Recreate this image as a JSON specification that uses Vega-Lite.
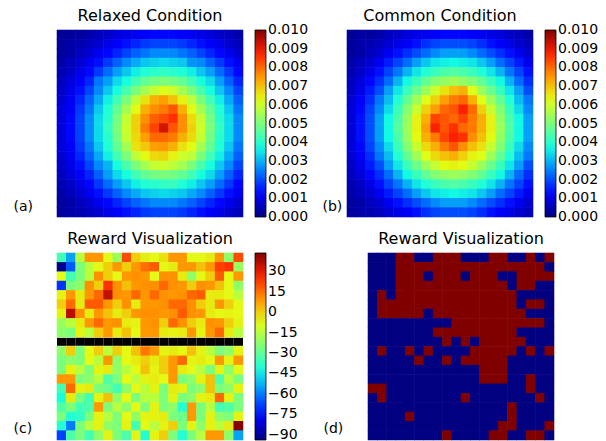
{
"$schema":"https://vega.github.io/schema/vega-lite/v6.json",
"padding":{"left":13,"top":7,"right":0,"bottom":0},
"config":{"view":{"stroke":null},"font":"DejaVu Sans","title":{"fontSize":16,"font":"DejaVu Sans","fontWeight":"normal","color":"black","baseline":"alphabetic","offset":6,"anchor":"middle"},
"legend":{"title":null,"type":"gradient","gradientLength":187,"gradientThickness":11,"offset":12,"labelOffset":5,"labelFontSize":14,"labelFont":"DejaVu Sans","labelColor":"black","gradientStrokeColor":"black","gradientStrokeWidth":0.8,"padding":0,"labelOverlap":false}},
"datasets":{
"a":[
{"r":0,"c":0,"v":0.0002},{"r":0,"c":1,"v":0.0003},{"r":0,"c":2,"v":0.0003},{"r":0,"c":3,"v":0.0004},{"r":0,"c":4,"v":0.0006},{"r":0,"c":5,"v":0.0007},{"r":0,"c":6,"v":0.0009},{"r":0,"c":7,"v":0.0010},{"r":0,"c":8,"v":0.0011},{"r":0,"c":9,"v":0.0012},{"r":0,"c":10,"v":0.0013},{"r":0,"c":11,"v":0.0013},{"r":0,"c":12,"v":0.0013},{"r":0,"c":13,"v":0.0012},{"r":0,"c":14,"v":0.0011},{"r":0,"c":15,"v":0.0010},{"r":0,"c":16,"v":0.0009},{"r":0,"c":17,"v":0.0007},{"r":0,"c":18,"v":0.0006},{"r":0,"c":19,"v":0.0004},
{"r":1,"c":0,"v":0.0003},{"r":1,"c":1,"v":0.0004},{"r":1,"c":2,"v":0.0005},{"r":1,"c":3,"v":0.0006},{"r":1,"c":4,"v":0.0008},{"r":1,"c":5,"v":0.0010},{"r":1,"c":6,"v":0.0012},{"r":1,"c":7,"v":0.0014},{"r":1,"c":8,"v":0.0016},{"r":1,"c":9,"v":0.0018},{"r":1,"c":10,"v":0.0019},{"r":1,"c":11,"v":0.0019},{"r":1,"c":12,"v":0.0019},{"r":1,"c":13,"v":0.0018},{"r":1,"c":14,"v":0.0016},{"r":1,"c":15,"v":0.0014},{"r":1,"c":16,"v":0.0012},{"r":1,"c":17,"v":0.0010},{"r":1,"c":18,"v":0.0008},{"r":1,"c":19,"v":0.0006},
{"r":2,"c":0,"v":0.0003},{"r":2,"c":1,"v":0.0004},{"r":2,"c":2,"v":0.0006},{"r":2,"c":3,"v":0.0008},{"r":2,"c":4,"v":0.0011},{"r":2,"c":5,"v":0.0013},{"r":2,"c":6,"v":0.0016},{"r":2,"c":7,"v":0.0019},{"r":2,"c":8,"v":0.0022},{"r":2,"c":9,"v":0.0024},{"r":2,"c":10,"v":0.0026},{"r":2,"c":11,"v":0.0026},{"r":2,"c":12,"v":0.0026},{"r":2,"c":13,"v":0.0024},{"r":2,"c":14,"v":0.0022},{"r":2,"c":15,"v":0.0019},{"r":2,"c":16,"v":0.0016},{"r":2,"c":17,"v":0.0013},{"r":2,"c":18,"v":0.0011},{"r":2,"c":19,"v":0.0008},
{"r":3,"c":0,"v":0.0004},{"r":3,"c":1,"v":0.0006},{"r":3,"c":2,"v":0.0008},{"r":3,"c":3,"v":0.0011},{"r":3,"c":4,"v":0.0014},{"r":3,"c":5,"v":0.0018},{"r":3,"c":6,"v":0.0022},{"r":3,"c":7,"v":0.0026},{"r":3,"c":8,"v":0.0029},{"r":3,"c":9,"v":0.0032},{"r":3,"c":10,"v":0.0033},{"r":3,"c":11,"v":0.0034},{"r":3,"c":12,"v":0.0033},{"r":3,"c":13,"v":0.0032},{"r":3,"c":14,"v":0.0027},{"r":3,"c":15,"v":0.0026},{"r":3,"c":16,"v":0.0022},{"r":3,"c":17,"v":0.0018},{"r":3,"c":18,"v":0.0014},{"r":3,"c":19,"v":0.0011},
{"r":4,"c":0,"v":0.0005},{"r":4,"c":1,"v":0.0007},{"r":4,"c":2,"v":0.0010},{"r":4,"c":3,"v":0.0013},{"r":4,"c":4,"v":0.0018},{"r":4,"c":5,"v":0.0023},{"r":4,"c":6,"v":0.0028},{"r":4,"c":7,"v":0.0032},{"r":4,"c":8,"v":0.0036},{"r":4,"c":9,"v":0.0039},{"r":4,"c":10,"v":0.0040},{"r":4,"c":11,"v":0.0041},{"r":4,"c":12,"v":0.0040},{"r":4,"c":13,"v":0.0039},{"r":4,"c":14,"v":0.0036},{"r":4,"c":15,"v":0.0032},{"r":4,"c":16,"v":0.0028},{"r":4,"c":17,"v":0.0023},{"r":4,"c":18,"v":0.0018},{"r":4,"c":19,"v":0.0013},
{"r":5,"c":0,"v":0.0006},{"r":5,"c":1,"v":0.0009},{"r":5,"c":2,"v":0.0012},{"r":5,"c":3,"v":0.0016},{"r":5,"c":4,"v":0.0024},{"r":5,"c":5,"v":0.0028},{"r":5,"c":6,"v":0.0034},{"r":5,"c":7,"v":0.0038},{"r":5,"c":8,"v":0.0043},{"r":5,"c":9,"v":0.0047},{"r":5,"c":10,"v":0.0049},{"r":5,"c":11,"v":0.0050},{"r":5,"c":12,"v":0.0049},{"r":5,"c":13,"v":0.0047},{"r":5,"c":14,"v":0.0043},{"r":5,"c":15,"v":0.0038},{"r":5,"c":16,"v":0.0034},{"r":5,"c":17,"v":0.0028},{"r":5,"c":18,"v":0.0022},{"r":5,"c":19,"v":0.0016},
{"r":6,"c":0,"v":0.0007},{"r":6,"c":1,"v":0.0010},{"r":6,"c":2,"v":0.0014},{"r":6,"c":3,"v":0.0019},{"r":6,"c":4,"v":0.0026},{"r":6,"c":5,"v":0.0032},{"r":6,"c":6,"v":0.0038},{"r":6,"c":7,"v":0.0044},{"r":6,"c":8,"v":0.0050},{"r":6,"c":9,"v":0.0055},{"r":6,"c":10,"v":0.0059},{"r":6,"c":11,"v":0.0062},{"r":6,"c":12,"v":0.0060},{"r":6,"c":13,"v":0.0055},{"r":6,"c":14,"v":0.0050},{"r":6,"c":15,"v":0.0044},{"r":6,"c":16,"v":0.0038},{"r":6,"c":17,"v":0.0032},{"r":6,"c":18,"v":0.0026},{"r":6,"c":19,"v":0.0019},
{"r":7,"c":0,"v":0.0008},{"r":7,"c":1,"v":0.0011},{"r":7,"c":2,"v":0.0016},{"r":7,"c":3,"v":0.0022},{"r":7,"c":4,"v":0.0029},{"r":7,"c":5,"v":0.0036},{"r":7,"c":6,"v":0.0043},{"r":7,"c":7,"v":0.0050},{"r":7,"c":8,"v":0.0058},{"r":7,"c":9,"v":0.0066},{"r":7,"c":10,"v":0.0072},{"r":7,"c":11,"v":0.0074},{"r":7,"c":12,"v":0.0070},{"r":7,"c":13,"v":0.0064},{"r":7,"c":14,"v":0.0058},{"r":7,"c":15,"v":0.0050},{"r":7,"c":16,"v":0.0043},{"r":7,"c":17,"v":0.0036},{"r":7,"c":18,"v":0.0029},{"r":7,"c":19,"v":0.0022},
{"r":8,"c":0,"v":0.0009},{"r":8,"c":1,"v":0.0012},{"r":8,"c":2,"v":0.0018},{"r":8,"c":3,"v":0.0024},{"r":8,"c":4,"v":0.0032},{"r":8,"c":5,"v":0.0039},{"r":8,"c":6,"v":0.0047},{"r":8,"c":7,"v":0.0055},{"r":8,"c":8,"v":0.0063},{"r":8,"c":9,"v":0.0072},{"r":8,"c":10,"v":0.0076},{"r":8,"c":11,"v":0.0078},{"r":8,"c":12,"v":0.0082},{"r":8,"c":13,"v":0.0072},{"r":8,"c":14,"v":0.0063},{"r":8,"c":15,"v":0.0055},{"r":8,"c":16,"v":0.0047},{"r":8,"c":17,"v":0.0039},{"r":8,"c":18,"v":0.0032},{"r":8,"c":19,"v":0.0024},
{"r":9,"c":0,"v":0.0009},{"r":9,"c":1,"v":0.0013},{"r":9,"c":2,"v":0.0019},{"r":9,"c":3,"v":0.0026},{"r":9,"c":4,"v":0.0034},{"r":9,"c":5,"v":0.0040},{"r":9,"c":6,"v":0.0049},{"r":9,"c":7,"v":0.0059},{"r":9,"c":8,"v":0.0068},{"r":9,"c":9,"v":0.0076},{"r":9,"c":10,"v":0.0081},{"r":9,"c":11,"v":0.0083},{"r":9,"c":12,"v":0.0086},{"r":9,"c":13,"v":0.0076},{"r":9,"c":14,"v":0.0067},{"r":9,"c":15,"v":0.0059},{"r":9,"c":16,"v":0.0049},{"r":9,"c":17,"v":0.0040},{"r":9,"c":18,"v":0.0034},{"r":9,"c":19,"v":0.0026},
{"r":10,"c":0,"v":0.0009},{"r":10,"c":1,"v":0.0013},{"r":10,"c":2,"v":0.0019},{"r":10,"c":3,"v":0.0026},{"r":10,"c":4,"v":0.0034},{"r":10,"c":5,"v":0.0041},{"r":10,"c":6,"v":0.0050},{"r":10,"c":7,"v":0.0060},{"r":10,"c":8,"v":0.0068},{"r":10,"c":9,"v":0.0078},{"r":10,"c":10,"v":0.0084},{"r":10,"c":11,"v":0.0092},{"r":10,"c":12,"v":0.0082},{"r":10,"c":13,"v":0.0076},{"r":10,"c":14,"v":0.0068},{"r":10,"c":15,"v":0.0060},{"r":10,"c":16,"v":0.0050},{"r":10,"c":17,"v":0.0041},{"r":10,"c":18,"v":0.0034},{"r":10,"c":19,"v":0.0026},
{"r":11,"c":0,"v":0.0009},{"r":11,"c":1,"v":0.0013},{"r":11,"c":2,"v":0.0019},{"r":11,"c":3,"v":0.0026},{"r":11,"c":4,"v":0.0034},{"r":11,"c":5,"v":0.0040},{"r":11,"c":6,"v":0.0049},{"r":11,"c":7,"v":0.0059},{"r":11,"c":8,"v":0.0067},{"r":11,"c":9,"v":0.0074},{"r":11,"c":10,"v":0.0080},{"r":11,"c":11,"v":0.0080},{"r":11,"c":12,"v":0.0078},{"r":11,"c":13,"v":0.0072},{"r":11,"c":14,"v":0.0067},{"r":11,"c":15,"v":0.0059},{"r":11,"c":16,"v":0.0049},{"r":11,"c":17,"v":0.0040},{"r":11,"c":18,"v":0.0034},{"r":11,"c":19,"v":0.0026},
{"r":12,"c":0,"v":0.0009},{"r":12,"c":1,"v":0.0012},{"r":12,"c":2,"v":0.0018},{"r":12,"c":3,"v":0.0024},{"r":12,"c":4,"v":0.0032},{"r":12,"c":5,"v":0.0039},{"r":12,"c":6,"v":0.0047},{"r":12,"c":7,"v":0.0055},{"r":12,"c":8,"v":0.0066},{"r":12,"c":9,"v":0.0069},{"r":12,"c":10,"v":0.0074},{"r":12,"c":11,"v":0.0075},{"r":12,"c":12,"v":0.0072},{"r":12,"c":13,"v":0.0066},{"r":12,"c":14,"v":0.0063},{"r":12,"c":15,"v":0.0055},{"r":12,"c":16,"v":0.0047},{"r":12,"c":17,"v":0.0039},{"r":12,"c":18,"v":0.0032},{"r":12,"c":19,"v":0.0024},
{"r":13,"c":0,"v":0.0008},{"r":13,"c":1,"v":0.0011},{"r":13,"c":2,"v":0.0016},{"r":13,"c":3,"v":0.0022},{"r":13,"c":4,"v":0.0029},{"r":13,"c":5,"v":0.0036},{"r":13,"c":6,"v":0.0043},{"r":13,"c":7,"v":0.0050},{"r":13,"c":8,"v":0.0058},{"r":13,"c":9,"v":0.0063},{"r":13,"c":10,"v":0.0067},{"r":13,"c":11,"v":0.0068},{"r":13,"c":12,"v":0.0064},{"r":13,"c":13,"v":0.0060},{"r":13,"c":14,"v":0.0058},{"r":13,"c":15,"v":0.0050},{"r":13,"c":16,"v":0.0043},{"r":13,"c":17,"v":0.0036},{"r":13,"c":18,"v":0.0029},{"r":13,"c":19,"v":0.0022},
{"r":14,"c":0,"v":0.0007},{"r":14,"c":1,"v":0.0010},{"r":14,"c":2,"v":0.0014},{"r":14,"c":3,"v":0.0019},{"r":14,"c":4,"v":0.0026},{"r":14,"c":5,"v":0.0030},{"r":14,"c":6,"v":0.0038},{"r":14,"c":7,"v":0.0044},{"r":14,"c":8,"v":0.0050},{"r":14,"c":9,"v":0.0055},{"r":14,"c":10,"v":0.0059},{"r":14,"c":11,"v":0.0060},{"r":14,"c":12,"v":0.0058},{"r":14,"c":13,"v":0.0055},{"r":14,"c":14,"v":0.0050},{"r":14,"c":15,"v":0.0044},{"r":14,"c":16,"v":0.0038},{"r":14,"c":17,"v":0.0032},{"r":14,"c":18,"v":0.0026},{"r":14,"c":19,"v":0.0019},
{"r":15,"c":0,"v":0.0006},{"r":15,"c":1,"v":0.0009},{"r":15,"c":2,"v":0.0012},{"r":15,"c":3,"v":0.0016},{"r":15,"c":4,"v":0.0022},{"r":15,"c":5,"v":0.0028},{"r":15,"c":6,"v":0.0034},{"r":15,"c":7,"v":0.0038},{"r":15,"c":8,"v":0.0043},{"r":15,"c":9,"v":0.0047},{"r":15,"c":10,"v":0.0049},{"r":15,"c":11,"v":0.0050},{"r":15,"c":12,"v":0.0049},{"r":15,"c":13,"v":0.0047},{"r":15,"c":14,"v":0.0043},{"r":15,"c":15,"v":0.0038},{"r":15,"c":16,"v":0.0034},{"r":15,"c":17,"v":0.0028},{"r":15,"c":18,"v":0.0022},{"r":15,"c":19,"v":0.0016},
{"r":16,"c":0,"v":0.0005},{"r":16,"c":1,"v":0.0007},{"r":16,"c":2,"v":0.0010},{"r":16,"c":3,"v":0.0013},{"r":16,"c":4,"v":0.0018},{"r":16,"c":5,"v":0.0023},{"r":16,"c":6,"v":0.0028},{"r":16,"c":7,"v":0.0032},{"r":16,"c":8,"v":0.0036},{"r":16,"c":9,"v":0.0039},{"r":16,"c":10,"v":0.0040},{"r":16,"c":11,"v":0.0041},{"r":16,"c":12,"v":0.0042},{"r":16,"c":13,"v":0.0039},{"r":16,"c":14,"v":0.0036},{"r":16,"c":15,"v":0.0032},{"r":16,"c":16,"v":0.0028},{"r":16,"c":17,"v":0.0023},{"r":16,"c":18,"v":0.0018},{"r":16,"c":19,"v":0.0013},
{"r":17,"c":0,"v":0.0004},{"r":17,"c":1,"v":0.0006},{"r":17,"c":2,"v":0.0008},{"r":17,"c":3,"v":0.0011},{"r":17,"c":4,"v":0.0014},{"r":17,"c":5,"v":0.0018},{"r":17,"c":6,"v":0.0022},{"r":17,"c":7,"v":0.0026},{"r":17,"c":8,"v":0.0029},{"r":17,"c":9,"v":0.0032},{"r":17,"c":10,"v":0.0033},{"r":17,"c":11,"v":0.0034},{"r":17,"c":12,"v":0.0033},{"r":17,"c":13,"v":0.0032},{"r":17,"c":14,"v":0.0029},{"r":17,"c":15,"v":0.0026},{"r":17,"c":16,"v":0.0022},{"r":17,"c":17,"v":0.0018},{"r":17,"c":18,"v":0.0014},{"r":17,"c":19,"v":0.0011},
{"r":18,"c":0,"v":0.0003},{"r":18,"c":1,"v":0.0004},{"r":18,"c":2,"v":0.0006},{"r":18,"c":3,"v":0.0008},{"r":18,"c":4,"v":0.0011},{"r":18,"c":5,"v":0.0013},{"r":18,"c":6,"v":0.0016},{"r":18,"c":7,"v":0.0019},{"r":18,"c":8,"v":0.0022},{"r":18,"c":9,"v":0.0024},{"r":18,"c":10,"v":0.0026},{"r":18,"c":11,"v":0.0026},{"r":18,"c":12,"v":0.0026},{"r":18,"c":13,"v":0.0024},{"r":18,"c":14,"v":0.0022},{"r":18,"c":15,"v":0.0019},{"r":18,"c":16,"v":0.0016},{"r":18,"c":17,"v":0.0013},{"r":18,"c":18,"v":0.0011},{"r":18,"c":19,"v":0.0008},
{"r":19,"c":0,"v":0.0003},{"r":19,"c":1,"v":0.0004},{"r":19,"c":2,"v":0.0005},{"r":19,"c":3,"v":0.0006},{"r":19,"c":4,"v":0.0008},{"r":19,"c":5,"v":0.0010},{"r":19,"c":6,"v":0.0012},{"r":19,"c":7,"v":0.0014},{"r":19,"c":8,"v":0.0016},{"r":19,"c":9,"v":0.0018},{"r":19,"c":10,"v":0.0019},{"r":19,"c":11,"v":0.0019},{"r":19,"c":12,"v":0.0019},{"r":19,"c":13,"v":0.0018},{"r":19,"c":14,"v":0.0016},{"r":19,"c":15,"v":0.0014},{"r":19,"c":16,"v":0.0012},{"r":19,"c":17,"v":0.0010},{"r":19,"c":18,"v":0.0008},{"r":19,"c":19,"v":0.0006}
],
"b":[
{"r":0,"c":0,"v":0.0002},{"r":0,"c":1,"v":0.0003},{"r":0,"c":2,"v":0.0003},{"r":0,"c":3,"v":0.0004},{"r":0,"c":4,"v":0.0006},{"r":0,"c":5,"v":0.0007},{"r":0,"c":6,"v":0.0009},{"r":0,"c":7,"v":0.0010},{"r":0,"c":8,"v":0.0011},{"r":0,"c":9,"v":0.0012},{"r":0,"c":10,"v":0.0013},{"r":0,"c":11,"v":0.0013},{"r":0,"c":12,"v":0.0013},{"r":0,"c":13,"v":0.0012},{"r":0,"c":14,"v":0.0011},{"r":0,"c":15,"v":0.0010},{"r":0,"c":16,"v":0.0009},{"r":0,"c":17,"v":0.0007},{"r":0,"c":18,"v":0.0006},{"r":0,"c":19,"v":0.0004},
{"r":1,"c":0,"v":0.0003},{"r":1,"c":1,"v":0.0004},{"r":1,"c":2,"v":0.0005},{"r":1,"c":3,"v":0.0006},{"r":1,"c":4,"v":0.0008},{"r":1,"c":5,"v":0.0010},{"r":1,"c":6,"v":0.0012},{"r":1,"c":7,"v":0.0014},{"r":1,"c":8,"v":0.0017},{"r":1,"c":9,"v":0.0019},{"r":1,"c":10,"v":0.0020},{"r":1,"c":11,"v":0.0020},{"r":1,"c":12,"v":0.0020},{"r":1,"c":13,"v":0.0019},{"r":1,"c":14,"v":0.0017},{"r":1,"c":15,"v":0.0014},{"r":1,"c":16,"v":0.0012},{"r":1,"c":17,"v":0.0010},{"r":1,"c":18,"v":0.0008},{"r":1,"c":19,"v":0.0006},
{"r":2,"c":0,"v":0.0003},{"r":2,"c":1,"v":0.0004},{"r":2,"c":2,"v":0.0006},{"r":2,"c":3,"v":0.0008},{"r":2,"c":4,"v":0.0011},{"r":2,"c":5,"v":0.0014},{"r":2,"c":6,"v":0.0017},{"r":2,"c":7,"v":0.0020},{"r":2,"c":8,"v":0.0023},{"r":2,"c":9,"v":0.0026},{"r":2,"c":10,"v":0.0028},{"r":2,"c":11,"v":0.0028},{"r":2,"c":12,"v":0.0028},{"r":2,"c":13,"v":0.0026},{"r":2,"c":14,"v":0.0023},{"r":2,"c":15,"v":0.0020},{"r":2,"c":16,"v":0.0017},{"r":2,"c":17,"v":0.0014},{"r":2,"c":18,"v":0.0011},{"r":2,"c":19,"v":0.0008},
{"r":3,"c":0,"v":0.0004},{"r":3,"c":1,"v":0.0006},{"r":3,"c":2,"v":0.0008},{"r":3,"c":3,"v":0.0011},{"r":3,"c":4,"v":0.0015},{"r":3,"c":5,"v":0.0019},{"r":3,"c":6,"v":0.0023},{"r":3,"c":7,"v":0.0028},{"r":3,"c":8,"v":0.0032},{"r":3,"c":9,"v":0.0035},{"r":3,"c":10,"v":0.0036},{"r":3,"c":11,"v":0.0037},{"r":3,"c":12,"v":0.0036},{"r":3,"c":13,"v":0.0035},{"r":3,"c":14,"v":0.0032},{"r":3,"c":15,"v":0.0028},{"r":3,"c":16,"v":0.0023},{"r":3,"c":17,"v":0.0019},{"r":3,"c":18,"v":0.0015},{"r":3,"c":19,"v":0.0011},
{"r":4,"c":0,"v":0.0005},{"r":4,"c":1,"v":0.0007},{"r":4,"c":2,"v":0.0010},{"r":4,"c":3,"v":0.0014},{"r":4,"c":4,"v":0.0019},{"r":4,"c":5,"v":0.0024},{"r":4,"c":6,"v":0.0030},{"r":4,"c":7,"v":0.0035},{"r":4,"c":8,"v":0.0039},{"r":4,"c":9,"v":0.0042},{"r":4,"c":10,"v":0.0044},{"r":4,"c":11,"v":0.0045},{"r":4,"c":12,"v":0.0044},{"r":4,"c":13,"v":0.0042},{"r":4,"c":14,"v":0.0039},{"r":4,"c":15,"v":0.0035},{"r":4,"c":16,"v":0.0030},{"r":4,"c":17,"v":0.0024},{"r":4,"c":18,"v":0.0019},{"r":4,"c":19,"v":0.0014},
{"r":5,"c":0,"v":0.0006},{"r":5,"c":1,"v":0.0009},{"r":5,"c":2,"v":0.0013},{"r":5,"c":3,"v":0.0017},{"r":5,"c":4,"v":0.0023},{"r":5,"c":5,"v":0.0030},{"r":5,"c":6,"v":0.0037},{"r":5,"c":7,"v":0.0042},{"r":5,"c":8,"v":0.0047},{"r":5,"c":9,"v":0.0051},{"r":5,"c":10,"v":0.0053},{"r":5,"c":11,"v":0.0055},{"r":5,"c":12,"v":0.0053},{"r":5,"c":13,"v":0.0051},{"r":5,"c":14,"v":0.0047},{"r":5,"c":15,"v":0.0042},{"r":5,"c":16,"v":0.0037},{"r":5,"c":17,"v":0.0030},{"r":5,"c":18,"v":0.0023},{"r":5,"c":19,"v":0.0017},
{"r":6,"c":0,"v":0.0007},{"r":6,"c":1,"v":0.0010},{"r":6,"c":2,"v":0.0015},{"r":6,"c":3,"v":0.0020},{"r":6,"c":4,"v":0.0028},{"r":6,"c":5,"v":0.0035},{"r":6,"c":6,"v":0.0042},{"r":6,"c":7,"v":0.0048},{"r":6,"c":8,"v":0.0054},{"r":6,"c":9,"v":0.0060},{"r":6,"c":10,"v":0.0066},{"r":6,"c":11,"v":0.0070},{"r":6,"c":12,"v":0.0072},{"r":6,"c":13,"v":0.0062},{"r":6,"c":14,"v":0.0054},{"r":6,"c":15,"v":0.0048},{"r":6,"c":16,"v":0.0042},{"r":6,"c":17,"v":0.0035},{"r":6,"c":18,"v":0.0028},{"r":6,"c":19,"v":0.0020},
{"r":7,"c":0,"v":0.0008},{"r":7,"c":1,"v":0.0012},{"r":7,"c":2,"v":0.0017},{"r":7,"c":3,"v":0.0024},{"r":7,"c":4,"v":0.0031},{"r":7,"c":5,"v":0.0039},{"r":7,"c":6,"v":0.0047},{"r":7,"c":7,"v":0.0054},{"r":7,"c":8,"v":0.0062},{"r":7,"c":9,"v":0.0068},{"r":7,"c":10,"v":0.0074},{"r":7,"c":11,"v":0.0078},{"r":7,"c":12,"v":0.0080},{"r":7,"c":13,"v":0.0072},{"r":7,"c":14,"v":0.0062},{"r":7,"c":15,"v":0.0054},{"r":7,"c":16,"v":0.0047},{"r":7,"c":17,"v":0.0039},{"r":7,"c":18,"v":0.0031},{"r":7,"c":19,"v":0.0024},
{"r":8,"c":0,"v":0.0009},{"r":8,"c":1,"v":0.0013},{"r":8,"c":2,"v":0.0019},{"r":8,"c":3,"v":0.0026},{"r":8,"c":4,"v":0.0034},{"r":8,"c":5,"v":0.0042},{"r":8,"c":6,"v":0.0051},{"r":8,"c":7,"v":0.0059},{"r":8,"c":8,"v":0.0068},{"r":8,"c":9,"v":0.0074},{"r":8,"c":10,"v":0.0080},{"r":8,"c":11,"v":0.0082},{"r":8,"c":12,"v":0.0088},{"r":8,"c":13,"v":0.0080},{"r":8,"c":14,"v":0.0068},{"r":8,"c":15,"v":0.0059},{"r":8,"c":16,"v":0.0051},{"r":8,"c":17,"v":0.0042},{"r":8,"c":18,"v":0.0034},{"r":8,"c":19,"v":0.0026},
{"r":9,"c":0,"v":0.0009},{"r":9,"c":1,"v":0.0014},{"r":9,"c":2,"v":0.0020},{"r":9,"c":3,"v":0.0028},{"r":9,"c":4,"v":0.0037},{"r":9,"c":5,"v":0.0044},{"r":9,"c":6,"v":0.0053},{"r":9,"c":7,"v":0.0064},{"r":9,"c":8,"v":0.0072},{"r":9,"c":9,"v":0.0084},{"r":9,"c":10,"v":0.0082},{"r":9,"c":11,"v":0.0080},{"r":9,"c":12,"v":0.0084},{"r":9,"c":13,"v":0.0078},{"r":9,"c":14,"v":0.0072},{"r":9,"c":15,"v":0.0064},{"r":9,"c":16,"v":0.0053},{"r":9,"c":17,"v":0.0044},{"r":9,"c":18,"v":0.0037},{"r":9,"c":19,"v":0.0028},
{"r":10,"c":0,"v":0.0009},{"r":10,"c":1,"v":0.0014},{"r":10,"c":2,"v":0.0020},{"r":10,"c":3,"v":0.0028},{"r":10,"c":4,"v":0.0037},{"r":10,"c":5,"v":0.0045},{"r":10,"c":6,"v":0.0054},{"r":10,"c":7,"v":0.0064},{"r":10,"c":8,"v":0.0074},{"r":10,"c":9,"v":0.0088},{"r":10,"c":10,"v":0.0082},{"r":10,"c":11,"v":0.0086},{"r":10,"c":12,"v":0.0080},{"r":10,"c":13,"v":0.0078},{"r":10,"c":14,"v":0.0072},{"r":10,"c":15,"v":0.0064},{"r":10,"c":16,"v":0.0054},{"r":10,"c":17,"v":0.0045},{"r":10,"c":18,"v":0.0037},{"r":10,"c":19,"v":0.0028},
{"r":11,"c":0,"v":0.0009},{"r":11,"c":1,"v":0.0014},{"r":11,"c":2,"v":0.0020},{"r":11,"c":3,"v":0.0028},{"r":11,"c":4,"v":0.0037},{"r":11,"c":5,"v":0.0044},{"r":11,"c":6,"v":0.0053},{"r":11,"c":7,"v":0.0063},{"r":11,"c":8,"v":0.0072},{"r":11,"c":9,"v":0.0078},{"r":11,"c":10,"v":0.0084},{"r":11,"c":11,"v":0.0088},{"r":11,"c":12,"v":0.0086},{"r":11,"c":13,"v":0.0076},{"r":11,"c":14,"v":0.0070},{"r":11,"c":15,"v":0.0063},{"r":11,"c":16,"v":0.0053},{"r":11,"c":17,"v":0.0044},{"r":11,"c":18,"v":0.0037},{"r":11,"c":19,"v":0.0028},
{"r":12,"c":0,"v":0.0009},{"r":12,"c":1,"v":0.0013},{"r":12,"c":2,"v":0.0019},{"r":12,"c":3,"v":0.0026},{"r":12,"c":4,"v":0.0034},{"r":12,"c":5,"v":0.0042},{"r":12,"c":6,"v":0.0051},{"r":12,"c":7,"v":0.0059},{"r":12,"c":8,"v":0.0067},{"r":12,"c":9,"v":0.0072},{"r":12,"c":10,"v":0.0078},{"r":12,"c":11,"v":0.0082},{"r":12,"c":12,"v":0.0076},{"r":12,"c":13,"v":0.0070},{"r":12,"c":14,"v":0.0066},{"r":12,"c":15,"v":0.0059},{"r":12,"c":16,"v":0.0051},{"r":12,"c":17,"v":0.0042},{"r":12,"c":18,"v":0.0034},{"r":12,"c":19,"v":0.0026},
{"r":13,"c":0,"v":0.0008},{"r":13,"c":1,"v":0.0012},{"r":13,"c":2,"v":0.0017},{"r":13,"c":3,"v":0.0024},{"r":13,"c":4,"v":0.0031},{"r":13,"c":5,"v":0.0039},{"r":13,"c":6,"v":0.0047},{"r":13,"c":7,"v":0.0054},{"r":13,"c":8,"v":0.0062},{"r":13,"c":9,"v":0.0067},{"r":13,"c":10,"v":0.0070},{"r":13,"c":11,"v":0.0072},{"r":13,"c":12,"v":0.0068},{"r":13,"c":13,"v":0.0064},{"r":13,"c":14,"v":0.0062},{"r":13,"c":15,"v":0.0054},{"r":13,"c":16,"v":0.0047},{"r":13,"c":17,"v":0.0039},{"r":13,"c":18,"v":0.0031},{"r":13,"c":19,"v":0.0024},
{"r":14,"c":0,"v":0.0007},{"r":14,"c":1,"v":0.0010},{"r":14,"c":2,"v":0.0015},{"r":14,"c":3,"v":0.0020},{"r":14,"c":4,"v":0.0028},{"r":14,"c":5,"v":0.0035},{"r":14,"c":6,"v":0.0042},{"r":14,"c":7,"v":0.0048},{"r":14,"c":8,"v":0.0054},{"r":14,"c":9,"v":0.0059},{"r":14,"c":10,"v":0.0063},{"r":14,"c":11,"v":0.0064},{"r":14,"c":12,"v":0.0063},{"r":14,"c":13,"v":0.0059},{"r":14,"c":14,"v":0.0054},{"r":14,"c":15,"v":0.0048},{"r":14,"c":16,"v":0.0042},{"r":14,"c":17,"v":0.0035},{"r":14,"c":18,"v":0.0028},{"r":14,"c":19,"v":0.0020},
{"r":15,"c":0,"v":0.0006},{"r":15,"c":1,"v":0.0009},{"r":15,"c":2,"v":0.0013},{"r":15,"c":3,"v":0.0017},{"r":15,"c":4,"v":0.0023},{"r":15,"c":5,"v":0.0030},{"r":15,"c":6,"v":0.0037},{"r":15,"c":7,"v":0.0042},{"r":15,"c":8,"v":0.0047},{"r":15,"c":9,"v":0.0051},{"r":15,"c":10,"v":0.0053},{"r":15,"c":11,"v":0.0054},{"r":15,"c":12,"v":0.0053},{"r":15,"c":13,"v":0.0051},{"r":15,"c":14,"v":0.0047},{"r":15,"c":15,"v":0.0042},{"r":15,"c":16,"v":0.0037},{"r":15,"c":17,"v":0.0030},{"r":15,"c":18,"v":0.0023},{"r":15,"c":19,"v":0.0017},
{"r":16,"c":0,"v":0.0005},{"r":16,"c":1,"v":0.0007},{"r":16,"c":2,"v":0.0010},{"r":16,"c":3,"v":0.0014},{"r":16,"c":4,"v":0.0019},{"r":16,"c":5,"v":0.0024},{"r":16,"c":6,"v":0.0030},{"r":16,"c":7,"v":0.0035},{"r":16,"c":8,"v":0.0039},{"r":16,"c":9,"v":0.0042},{"r":16,"c":10,"v":0.0044},{"r":16,"c":11,"v":0.0045},{"r":16,"c":12,"v":0.0044},{"r":16,"c":13,"v":0.0042},{"r":16,"c":14,"v":0.0039},{"r":16,"c":15,"v":0.0035},{"r":16,"c":16,"v":0.0030},{"r":16,"c":17,"v":0.0024},{"r":16,"c":18,"v":0.0019},{"r":16,"c":19,"v":0.0014},
{"r":17,"c":0,"v":0.0004},{"r":17,"c":1,"v":0.0006},{"r":17,"c":2,"v":0.0008},{"r":17,"c":3,"v":0.0011},{"r":17,"c":4,"v":0.0015},{"r":17,"c":5,"v":0.0019},{"r":17,"c":6,"v":0.0023},{"r":17,"c":7,"v":0.0028},{"r":17,"c":8,"v":0.0032},{"r":17,"c":9,"v":0.0035},{"r":17,"c":10,"v":0.0036},{"r":17,"c":11,"v":0.0037},{"r":17,"c":12,"v":0.0036},{"r":17,"c":13,"v":0.0035},{"r":17,"c":14,"v":0.0032},{"r":17,"c":15,"v":0.0028},{"r":17,"c":16,"v":0.0023},{"r":17,"c":17,"v":0.0019},{"r":17,"c":18,"v":0.0015},{"r":17,"c":19,"v":0.0011},
{"r":18,"c":0,"v":0.0003},{"r":18,"c":1,"v":0.0004},{"r":18,"c":2,"v":0.0006},{"r":18,"c":3,"v":0.0008},{"r":18,"c":4,"v":0.0011},{"r":18,"c":5,"v":0.0014},{"r":18,"c":6,"v":0.0017},{"r":18,"c":7,"v":0.0020},{"r":18,"c":8,"v":0.0023},{"r":18,"c":9,"v":0.0026},{"r":18,"c":10,"v":0.0028},{"r":18,"c":11,"v":0.0028},{"r":18,"c":12,"v":0.0028},{"r":18,"c":13,"v":0.0026},{"r":18,"c":14,"v":0.0023},{"r":18,"c":15,"v":0.0020},{"r":18,"c":16,"v":0.0017},{"r":18,"c":17,"v":0.0014},{"r":18,"c":18,"v":0.0011},{"r":18,"c":19,"v":0.0008},
{"r":19,"c":0,"v":0.0003},{"r":19,"c":1,"v":0.0004},{"r":19,"c":2,"v":0.0005},{"r":19,"c":3,"v":0.0006},{"r":19,"c":4,"v":0.0008},{"r":19,"c":5,"v":0.0010},{"r":19,"c":6,"v":0.0012},{"r":19,"c":7,"v":0.0014},{"r":19,"c":8,"v":0.0017},{"r":19,"c":9,"v":0.0019},{"r":19,"c":10,"v":0.0020},{"r":19,"c":11,"v":0.0020},{"r":19,"c":12,"v":0.0020},{"r":19,"c":13,"v":0.0019},{"r":19,"c":14,"v":0.0017},{"r":19,"c":15,"v":0.0014},{"r":19,"c":16,"v":0.0012},{"r":19,"c":17,"v":0.0010},{"r":19,"c":18,"v":0.0008},{"r":19,"c":19,"v":0.0006}
],
"c":[
{"r":0,"c":0,"v":-35},{"r":0,"c":1,"v":-55},{"r":0,"c":2,"v":-15},{"r":0,"c":3,"v":9},{"r":0,"c":4,"v":9},{"r":0,"c":5,"v":-7},{"r":0,"c":6,"v":-20},{"r":0,"c":7,"v":20},{"r":0,"c":8,"v":0},{"r":0,"c":9,"v":-5},{"r":0,"c":10,"v":-7},{"r":0,"c":11,"v":-3},{"r":0,"c":12,"v":9},{"r":0,"c":13,"v":9},{"r":0,"c":14,"v":-7},{"r":0,"c":15,"v":-7},{"r":0,"c":16,"v":-5},{"r":0,"c":17,"v":9},{"r":0,"c":18,"v":-22},{"r":0,"c":19,"v":20},
{"r":1,"c":0,"v":-92},{"r":1,"c":1,"v":-65},{"r":1,"c":2,"v":-25},{"r":1,"c":3,"v":-15},{"r":1,"c":4,"v":-7},{"r":1,"c":5,"v":0},{"r":1,"c":6,"v":9},{"r":1,"c":7,"v":0},{"r":1,"c":8,"v":9},{"r":1,"c":9,"v":15},{"r":1,"c":10,"v":18},{"r":1,"c":11,"v":-7},{"r":1,"c":12,"v":-5},{"r":1,"c":13,"v":9},{"r":1,"c":14,"v":9},{"r":1,"c":15,"v":2},{"r":1,"c":16,"v":9},{"r":1,"c":17,"v":22},{"r":1,"c":18,"v":24},{"r":1,"c":19,"v":-20},
{"r":2,"c":0,"v":-8},{"r":2,"c":1,"v":-35},{"r":2,"c":2,"v":-25},{"r":2,"c":3,"v":-15},{"r":2,"c":4,"v":10},{"r":2,"c":5,"v":0},{"r":2,"c":6,"v":-7},{"r":2,"c":7,"v":9},{"r":2,"c":8,"v":10},{"r":2,"c":9,"v":9},{"r":2,"c":10,"v":-7},{"r":2,"c":11,"v":10},{"r":2,"c":12,"v":10},{"r":2,"c":13,"v":-5},{"r":2,"c":14,"v":-22},{"r":2,"c":15,"v":-7},{"r":2,"c":16,"v":0},{"r":2,"c":17,"v":18},{"r":2,"c":18,"v":-7},{"r":2,"c":19,"v":9},
{"r":3,"c":0,"v":-70},{"r":3,"c":1,"v":-25},{"r":3,"c":2,"v":-22},{"r":3,"c":3,"v":10},{"r":3,"c":4,"v":0},{"r":3,"c":5,"v":24},{"r":3,"c":6,"v":10},{"r":3,"c":7,"v":2},{"r":3,"c":8,"v":9},{"r":3,"c":9,"v":10},{"r":3,"c":10,"v":10},{"r":3,"c":11,"v":16},{"r":3,"c":12,"v":10},{"r":3,"c":13,"v":9},{"r":3,"c":14,"v":0},{"r":3,"c":15,"v":10},{"r":3,"c":16,"v":9},{"r":3,"c":17,"v":2},{"r":3,"c":18,"v":-7},{"r":3,"c":19,"v":-22},
{"r":4,"c":0,"v":-6},{"r":4,"c":1,"v":9},{"r":4,"c":2,"v":-5},{"r":4,"c":3,"v":9},{"r":4,"c":4,"v":16},{"r":4,"c":5,"v":35},{"r":4,"c":6,"v":10},{"r":4,"c":7,"v":9},{"r":4,"c":8,"v":16},{"r":4,"c":9,"v":9},{"r":4,"c":10,"v":16},{"r":4,"c":11,"v":10},{"r":4,"c":12,"v":9},{"r":4,"c":13,"v":10},{"r":4,"c":14,"v":16},{"r":4,"c":15,"v":18},{"r":4,"c":16,"v":-5},{"r":4,"c":17,"v":-5},{"r":4,"c":18,"v":-7},{"r":4,"c":19,"v":-15},
{"r":5,"c":0,"v":0},{"r":5,"c":1,"v":16},{"r":5,"c":2,"v":-5},{"r":5,"c":3,"v":18},{"r":5,"c":4,"v":18},{"r":5,"c":5,"v":9},{"r":5,"c":6,"v":0},{"r":5,"c":7,"v":10},{"r":5,"c":8,"v":-5},{"r":5,"c":9,"v":9},{"r":5,"c":10,"v":9},{"r":5,"c":11,"v":10},{"r":5,"c":12,"v":16},{"r":5,"c":13,"v":16},{"r":5,"c":14,"v":10},{"r":5,"c":15,"v":0},{"r":5,"c":16,"v":-5},{"r":5,"c":17,"v":9},{"r":5,"c":18,"v":0},{"r":5,"c":19,"v":-7},
{"r":6,"c":0,"v":-6},{"r":6,"c":1,"v":36},{"r":6,"c":2,"v":10},{"r":6,"c":3,"v":-5},{"r":6,"c":4,"v":9},{"r":6,"c":5,"v":2},{"r":6,"c":6,"v":-5},{"r":6,"c":7,"v":0},{"r":6,"c":8,"v":9},{"r":6,"c":9,"v":10},{"r":6,"c":10,"v":10},{"r":6,"c":11,"v":9},{"r":6,"c":12,"v":10},{"r":6,"c":13,"v":18},{"r":6,"c":14,"v":10},{"r":6,"c":15,"v":9},{"r":6,"c":16,"v":-5},{"r":6,"c":17,"v":-7},{"r":6,"c":18,"v":-6},{"r":6,"c":19,"v":-7},
{"r":7,"c":0,"v":-20},{"r":7,"c":1,"v":-15},{"r":7,"c":2,"v":-5},{"r":7,"c":3,"v":9},{"r":7,"c":4,"v":16},{"r":7,"c":5,"v":9},{"r":7,"c":6,"v":10},{"r":7,"c":7,"v":-5},{"r":7,"c":8,"v":-6},{"r":7,"c":9,"v":9},{"r":7,"c":10,"v":10},{"r":7,"c":11,"v":0},{"r":7,"c":12,"v":16},{"r":7,"c":13,"v":10},{"r":7,"c":14,"v":0},{"r":7,"c":15,"v":-5},{"r":7,"c":16,"v":10},{"r":7,"c":17,"v":9},{"r":7,"c":18,"v":0},{"r":7,"c":19,"v":-6},
{"r":8,"c":0,"v":-22},{"r":8,"c":1,"v":-25},{"r":8,"c":2,"v":-6},{"r":8,"c":3,"v":-15},{"r":8,"c":4,"v":0},{"r":8,"c":5,"v":9},{"r":8,"c":6,"v":-5},{"r":8,"c":7,"v":2},{"r":8,"c":8,"v":-7},{"r":8,"c":9,"v":9},{"r":8,"c":10,"v":9},{"r":8,"c":11,"v":-5},{"r":8,"c":12,"v":-6},{"r":8,"c":13,"v":-5},{"r":8,"c":14,"v":9},{"r":8,"c":15,"v":-6},{"r":8,"c":16,"v":9},{"r":8,"c":17,"v":16},{"r":8,"c":18,"v":-5},{"r":8,"c":19,"v":-15},
{"r":9,"c":0,"v":null},{"r":9,"c":1,"v":null},{"r":9,"c":2,"v":null},{"r":9,"c":3,"v":null},{"r":9,"c":4,"v":null},{"r":9,"c":5,"v":null},{"r":9,"c":6,"v":null},{"r":9,"c":7,"v":null},{"r":9,"c":8,"v":null},{"r":9,"c":9,"v":null},{"r":9,"c":10,"v":null},{"r":9,"c":11,"v":null},{"r":9,"c":12,"v":null},{"r":9,"c":13,"v":null},{"r":9,"c":14,"v":null},{"r":9,"c":15,"v":null},{"r":9,"c":16,"v":null},{"r":9,"c":17,"v":null},{"r":9,"c":18,"v":null},{"r":9,"c":19,"v":null},
{"r":10,"c":0,"v":-22},{"r":10,"c":1,"v":0},{"r":10,"c":2,"v":-25},{"r":10,"c":3,"v":-7},{"r":10,"c":4,"v":0},{"r":10,"c":5,"v":-15},{"r":10,"c":6,"v":0},{"r":10,"c":7,"v":-7},{"r":10,"c":8,"v":2},{"r":10,"c":9,"v":14},{"r":10,"c":10,"v":9},{"r":10,"c":11,"v":-6},{"r":10,"c":12,"v":-5},{"r":10,"c":13,"v":-7},{"r":10,"c":14,"v":2},{"r":10,"c":15,"v":-6},{"r":10,"c":16,"v":-15},{"r":10,"c":17,"v":-25},{"r":10,"c":18,"v":-22},{"r":10,"c":19,"v":-6},
{"r":11,"c":0,"v":-25},{"r":11,"c":1,"v":-22},{"r":11,"c":2,"v":-25},{"r":11,"c":3,"v":-7},{"r":11,"c":4,"v":-15},{"r":11,"c":5,"v":9},{"r":11,"c":6,"v":-22},{"r":11,"c":7,"v":-7},{"r":11,"c":8,"v":-5},{"r":11,"c":9,"v":0},{"r":11,"c":10,"v":-5},{"r":11,"c":11,"v":0},{"r":11,"c":12,"v":9},{"r":11,"c":13,"v":16},{"r":11,"c":14,"v":-6},{"r":11,"c":15,"v":-5},{"r":11,"c":16,"v":-7},{"r":11,"c":17,"v":9},{"r":11,"c":18,"v":-6},{"r":11,"c":19,"v":9},
{"r":12,"c":0,"v":-25},{"r":12,"c":1,"v":-6},{"r":12,"c":2,"v":-15},{"r":12,"c":3,"v":-25},{"r":12,"c":4,"v":-6},{"r":12,"c":5,"v":-5},{"r":12,"c":6,"v":-22},{"r":12,"c":7,"v":-15},{"r":12,"c":8,"v":-7},{"r":12,"c":9,"v":2},{"r":12,"c":10,"v":-6},{"r":12,"c":11,"v":0},{"r":12,"c":12,"v":9},{"r":12,"c":13,"v":-5},{"r":12,"c":14,"v":-7},{"r":12,"c":15,"v":-15},{"r":12,"c":16,"v":-25},{"r":12,"c":17,"v":-6},{"r":12,"c":18,"v":-22},{"r":12,"c":19,"v":-7},
{"r":13,"c":0,"v":9},{"r":13,"c":1,"v":9},{"r":13,"c":2,"v":-25},{"r":13,"c":3,"v":-22},{"r":13,"c":4,"v":-15},{"r":13,"c":5,"v":-33},{"r":13,"c":6,"v":-25},{"r":13,"c":7,"v":-7},{"r":13,"c":8,"v":-15},{"r":13,"c":9,"v":-6},{"r":13,"c":10,"v":-5},{"r":13,"c":11,"v":-7},{"r":13,"c":12,"v":9},{"r":13,"c":13,"v":-25},{"r":13,"c":14,"v":-22},{"r":13,"c":15,"v":-6},{"r":13,"c":16,"v":2},{"r":13,"c":17,"v":-33},{"r":13,"c":18,"v":-15},{"r":13,"c":19,"v":-25},
{"r":14,"c":0,"v":-35},{"r":14,"c":1,"v":16},{"r":14,"c":2,"v":-6},{"r":14,"c":3,"v":-5},{"r":14,"c":4,"v":-25},{"r":14,"c":5,"v":-28},{"r":14,"c":6,"v":-35},{"r":14,"c":7,"v":-22},{"r":14,"c":8,"v":-7},{"r":14,"c":9,"v":-15},{"r":14,"c":10,"v":-6},{"r":14,"c":11,"v":-25},{"r":14,"c":12,"v":-5},{"r":14,"c":13,"v":-6},{"r":14,"c":14,"v":-25},{"r":14,"c":15,"v":-22},{"r":14,"c":16,"v":2},{"r":14,"c":17,"v":-25},{"r":14,"c":18,"v":-22},{"r":14,"c":19,"v":-6},
{"r":15,"c":0,"v":-42},{"r":15,"c":1,"v":-5},{"r":15,"c":2,"v":-25},{"r":15,"c":3,"v":-35},{"r":15,"c":4,"v":-6},{"r":15,"c":5,"v":2},{"r":15,"c":6,"v":-22},{"r":15,"c":7,"v":-7},{"r":15,"c":8,"v":-25},{"r":15,"c":9,"v":-15},{"r":15,"c":10,"v":-15},{"r":15,"c":11,"v":-25},{"r":15,"c":12,"v":-6},{"r":15,"c":13,"v":-25},{"r":15,"c":14,"v":-22},{"r":15,"c":15,"v":-6},{"r":15,"c":16,"v":-5},{"r":15,"c":17,"v":16},{"r":15,"c":18,"v":-6},{"r":15,"c":19,"v":-25},
{"r":16,"c":0,"v":-32},{"r":16,"c":1,"v":-25},{"r":16,"c":2,"v":-35},{"r":16,"c":3,"v":-33},{"r":16,"c":4,"v":9},{"r":16,"c":5,"v":-25},{"r":16,"c":6,"v":-15},{"r":16,"c":7,"v":-22},{"r":16,"c":8,"v":-7},{"r":16,"c":9,"v":-25},{"r":16,"c":10,"v":-6},{"r":16,"c":11,"v":-25},{"r":16,"c":12,"v":-22},{"r":16,"c":13,"v":-40},{"r":16,"c":14,"v":9},{"r":16,"c":15,"v":-25},{"r":16,"c":16,"v":-15},{"r":16,"c":17,"v":-35},{"r":16,"c":18,"v":-33},{"r":16,"c":19,"v":-25},
{"r":17,"c":0,"v":-25},{"r":17,"c":1,"v":-40},{"r":17,"c":2,"v":-38},{"r":17,"c":3,"v":-25},{"r":17,"c":4,"v":-6},{"r":17,"c":5,"v":-15},{"r":17,"c":6,"v":-25},{"r":17,"c":7,"v":-7},{"r":17,"c":8,"v":-22},{"r":17,"c":9,"v":-6},{"r":17,"c":10,"v":-6},{"r":17,"c":11,"v":-5},{"r":17,"c":12,"v":-25},{"r":17,"c":13,"v":-28},{"r":17,"c":14,"v":9},{"r":17,"c":15,"v":-25},{"r":17,"c":16,"v":-6},{"r":17,"c":17,"v":-22},{"r":17,"c":18,"v":-25},{"r":17,"c":19,"v":-6},
{"r":18,"c":0,"v":-40},{"r":18,"c":1,"v":-60},{"r":18,"c":2,"v":-25},{"r":18,"c":3,"v":-15},{"r":18,"c":4,"v":-6},{"r":18,"c":5,"v":-22},{"r":18,"c":6,"v":-25},{"r":18,"c":7,"v":-6},{"r":18,"c":8,"v":-35},{"r":18,"c":9,"v":-7},{"r":18,"c":10,"v":-15},{"r":18,"c":11,"v":-6},{"r":18,"c":12,"v":0},{"r":18,"c":13,"v":-25},{"r":18,"c":14,"v":-6},{"r":18,"c":15,"v":-22},{"r":18,"c":16,"v":-6},{"r":18,"c":17,"v":-15},{"r":18,"c":18,"v":-5},{"r":18,"c":19,"v":43},
{"r":19,"c":0,"v":-68},{"r":19,"c":1,"v":-33},{"r":19,"c":2,"v":-25},{"r":19,"c":3,"v":-35},{"r":19,"c":4,"v":-22},{"r":19,"c":5,"v":-6},{"r":19,"c":6,"v":-25},{"r":19,"c":7,"v":-33},{"r":19,"c":8,"v":-6},{"r":19,"c":9,"v":-40},{"r":19,"c":10,"v":-6},{"r":19,"c":11,"v":0},{"r":19,"c":12,"v":-25},{"r":19,"c":13,"v":-40},{"r":19,"c":14,"v":-25},{"r":19,"c":15,"v":-15},{"r":19,"c":16,"v":9},{"r":19,"c":17,"v":9},{"r":19,"c":18,"v":-22},{"r":19,"c":19,"v":-55}
],
"d":[
{"r":0,"c":0,"v":0},{"r":0,"c":1,"v":0},{"r":0,"c":2,"v":0},{"r":0,"c":3,"v":1},{"r":0,"c":4,"v":1},{"r":0,"c":5,"v":0},{"r":0,"c":6,"v":0},{"r":0,"c":7,"v":1},{"r":0,"c":8,"v":1},{"r":0,"c":9,"v":1},{"r":0,"c":10,"v":0},{"r":0,"c":11,"v":0},{"r":0,"c":12,"v":0},{"r":0,"c":13,"v":1},{"r":0,"c":14,"v":1},{"r":0,"c":15,"v":0},{"r":0,"c":16,"v":0},{"r":0,"c":17,"v":1},{"r":0,"c":18,"v":0},{"r":0,"c":19,"v":1},
{"r":1,"c":0,"v":0},{"r":1,"c":1,"v":0},{"r":1,"c":2,"v":0},{"r":1,"c":3,"v":1},{"r":1,"c":4,"v":1},{"r":1,"c":5,"v":1},{"r":1,"c":6,"v":1},{"r":1,"c":7,"v":1},{"r":1,"c":8,"v":1},{"r":1,"c":9,"v":1},{"r":1,"c":10,"v":1},{"r":1,"c":11,"v":1},{"r":1,"c":12,"v":1},{"r":1,"c":13,"v":1},{"r":1,"c":14,"v":1},{"r":1,"c":15,"v":1},{"r":1,"c":16,"v":1},{"r":1,"c":17,"v":1},{"r":1,"c":18,"v":1},{"r":1,"c":19,"v":0},
{"r":2,"c":0,"v":0},{"r":2,"c":1,"v":0},{"r":2,"c":2,"v":0},{"r":2,"c":3,"v":1},{"r":2,"c":4,"v":1},{"r":2,"c":5,"v":1},{"r":2,"c":6,"v":0},{"r":2,"c":7,"v":1},{"r":2,"c":8,"v":1},{"r":2,"c":9,"v":1},{"r":2,"c":10,"v":0},{"r":2,"c":11,"v":1},{"r":2,"c":12,"v":1},{"r":2,"c":13,"v":1},{"r":2,"c":14,"v":0},{"r":2,"c":15,"v":0},{"r":2,"c":16,"v":1},{"r":2,"c":17,"v":1},{"r":2,"c":18,"v":1},{"r":2,"c":19,"v":1},
{"r":3,"c":0,"v":0},{"r":3,"c":1,"v":0},{"r":3,"c":2,"v":0},{"r":3,"c":3,"v":1},{"r":3,"c":4,"v":1},{"r":3,"c":5,"v":1},{"r":3,"c":6,"v":1},{"r":3,"c":7,"v":1},{"r":3,"c":8,"v":1},{"r":3,"c":9,"v":1},{"r":3,"c":10,"v":1},{"r":3,"c":11,"v":1},{"r":3,"c":12,"v":1},{"r":3,"c":13,"v":1},{"r":3,"c":14,"v":1},{"r":3,"c":15,"v":0},{"r":3,"c":16,"v":1},{"r":3,"c":17,"v":1},{"r":3,"c":18,"v":0},{"r":3,"c":19,"v":0},
{"r":4,"c":0,"v":0},{"r":4,"c":1,"v":1},{"r":4,"c":2,"v":0},{"r":4,"c":3,"v":1},{"r":4,"c":4,"v":1},{"r":4,"c":5,"v":1},{"r":4,"c":6,"v":1},{"r":4,"c":7,"v":1},{"r":4,"c":8,"v":1},{"r":4,"c":9,"v":1},{"r":4,"c":10,"v":1},{"r":4,"c":11,"v":1},{"r":4,"c":12,"v":1},{"r":4,"c":13,"v":1},{"r":4,"c":14,"v":1},{"r":4,"c":15,"v":1},{"r":4,"c":16,"v":0},{"r":4,"c":17,"v":0},{"r":4,"c":18,"v":0},{"r":4,"c":19,"v":0},
{"r":5,"c":0,"v":0},{"r":5,"c":1,"v":1},{"r":5,"c":2,"v":1},{"r":5,"c":3,"v":1},{"r":5,"c":4,"v":1},{"r":5,"c":5,"v":1},{"r":5,"c":6,"v":1},{"r":5,"c":7,"v":1},{"r":5,"c":8,"v":1},{"r":5,"c":9,"v":1},{"r":5,"c":10,"v":1},{"r":5,"c":11,"v":1},{"r":5,"c":12,"v":1},{"r":5,"c":13,"v":1},{"r":5,"c":14,"v":1},{"r":5,"c":15,"v":1},{"r":5,"c":16,"v":0},{"r":5,"c":17,"v":1},{"r":5,"c":18,"v":1},{"r":5,"c":19,"v":0},
{"r":6,"c":0,"v":0},{"r":6,"c":1,"v":1},{"r":6,"c":2,"v":1},{"r":6,"c":3,"v":1},{"r":6,"c":4,"v":1},{"r":6,"c":5,"v":1},{"r":6,"c":6,"v":0},{"r":6,"c":7,"v":1},{"r":6,"c":8,"v":1},{"r":6,"c":9,"v":1},{"r":6,"c":10,"v":1},{"r":6,"c":11,"v":1},{"r":6,"c":12,"v":1},{"r":6,"c":13,"v":1},{"r":6,"c":14,"v":1},{"r":6,"c":15,"v":1},{"r":6,"c":16,"v":1},{"r":6,"c":17,"v":0},{"r":6,"c":18,"v":0},{"r":6,"c":19,"v":0},
{"r":7,"c":0,"v":0},{"r":7,"c":1,"v":0},{"r":7,"c":2,"v":0},{"r":7,"c":3,"v":0},{"r":7,"c":4,"v":0},{"r":7,"c":5,"v":0},{"r":7,"c":6,"v":0},{"r":7,"c":7,"v":0},{"r":7,"c":8,"v":0},{"r":7,"c":9,"v":1},{"r":7,"c":10,"v":1},{"r":7,"c":11,"v":1},{"r":7,"c":12,"v":1},{"r":7,"c":13,"v":1},{"r":7,"c":14,"v":1},{"r":7,"c":15,"v":1},{"r":7,"c":16,"v":1},{"r":7,"c":17,"v":1},{"r":7,"c":18,"v":1},{"r":7,"c":19,"v":0},
{"r":8,"c":0,"v":0},{"r":8,"c":1,"v":0},{"r":8,"c":2,"v":0},{"r":8,"c":3,"v":0},{"r":8,"c":4,"v":0},{"r":8,"c":5,"v":0},{"r":8,"c":6,"v":0},{"r":8,"c":7,"v":1},{"r":8,"c":8,"v":1},{"r":8,"c":9,"v":1},{"r":8,"c":10,"v":1},{"r":8,"c":11,"v":1},{"r":8,"c":12,"v":1},{"r":8,"c":13,"v":1},{"r":8,"c":14,"v":1},{"r":8,"c":15,"v":1},{"r":8,"c":16,"v":0},{"r":8,"c":17,"v":0},{"r":8,"c":18,"v":0},{"r":8,"c":19,"v":0},
{"r":9,"c":0,"v":0},{"r":9,"c":1,"v":0},{"r":9,"c":2,"v":0},{"r":9,"c":3,"v":0},{"r":9,"c":4,"v":0},{"r":9,"c":5,"v":0},{"r":9,"c":6,"v":0},{"r":9,"c":7,"v":0},{"r":9,"c":8,"v":1},{"r":9,"c":9,"v":0},{"r":9,"c":10,"v":1},{"r":9,"c":11,"v":0},{"r":9,"c":12,"v":1},{"r":9,"c":13,"v":1},{"r":9,"c":14,"v":1},{"r":9,"c":15,"v":1},{"r":9,"c":16,"v":1},{"r":9,"c":17,"v":0},{"r":9,"c":18,"v":0},{"r":9,"c":19,"v":0},
{"r":10,"c":0,"v":0},{"r":10,"c":1,"v":1},{"r":10,"c":2,"v":0},{"r":10,"c":3,"v":0},{"r":10,"c":4,"v":1},{"r":10,"c":5,"v":0},{"r":10,"c":6,"v":1},{"r":10,"c":7,"v":0},{"r":10,"c":8,"v":0},{"r":10,"c":9,"v":0},{"r":10,"c":10,"v":0},{"r":10,"c":11,"v":1},{"r":10,"c":12,"v":1},{"r":10,"c":13,"v":1},{"r":10,"c":14,"v":1},{"r":10,"c":15,"v":1},{"r":10,"c":16,"v":0},{"r":10,"c":17,"v":1},{"r":10,"c":18,"v":0},{"r":10,"c":19,"v":1},
{"r":11,"c":0,"v":0},{"r":11,"c":1,"v":0},{"r":11,"c":2,"v":0},{"r":11,"c":3,"v":0},{"r":11,"c":4,"v":0},{"r":11,"c":5,"v":1},{"r":11,"c":6,"v":0},{"r":11,"c":7,"v":0},{"r":11,"c":8,"v":1},{"r":11,"c":9,"v":0},{"r":11,"c":10,"v":1},{"r":11,"c":11,"v":1},{"r":11,"c":12,"v":1},{"r":11,"c":13,"v":1},{"r":11,"c":14,"v":1},{"r":11,"c":15,"v":0},{"r":11,"c":16,"v":0},{"r":11,"c":17,"v":0},{"r":11,"c":18,"v":0},{"r":11,"c":19,"v":0},
{"r":12,"c":0,"v":0},{"r":12,"c":1,"v":0},{"r":12,"c":2,"v":0},{"r":12,"c":3,"v":0},{"r":12,"c":4,"v":0},{"r":12,"c":5,"v":0},{"r":12,"c":6,"v":0},{"r":12,"c":7,"v":0},{"r":12,"c":8,"v":0},{"r":12,"c":9,"v":0},{"r":12,"c":10,"v":0},{"r":12,"c":11,"v":0},{"r":12,"c":12,"v":1},{"r":12,"c":13,"v":1},{"r":12,"c":14,"v":1},{"r":12,"c":15,"v":0},{"r":12,"c":16,"v":0},{"r":12,"c":17,"v":0},{"r":12,"c":18,"v":0},{"r":12,"c":19,"v":0},
{"r":13,"c":0,"v":0},{"r":13,"c":1,"v":0},{"r":13,"c":2,"v":0},{"r":13,"c":3,"v":0},{"r":13,"c":4,"v":0},{"r":13,"c":5,"v":0},{"r":13,"c":6,"v":0},{"r":13,"c":7,"v":0},{"r":13,"c":8,"v":0},{"r":13,"c":9,"v":0},{"r":13,"c":10,"v":0},{"r":13,"c":11,"v":0},{"r":13,"c":12,"v":1},{"r":13,"c":13,"v":1},{"r":13,"c":14,"v":1},{"r":13,"c":15,"v":0},{"r":13,"c":16,"v":0},{"r":13,"c":17,"v":1},{"r":13,"c":18,"v":0},{"r":13,"c":19,"v":0},
{"r":14,"c":0,"v":1},{"r":14,"c":1,"v":1},{"r":14,"c":2,"v":0},{"r":14,"c":3,"v":0},{"r":14,"c":4,"v":0},{"r":14,"c":5,"v":0},{"r":14,"c":6,"v":0},{"r":14,"c":7,"v":0},{"r":14,"c":8,"v":0},{"r":14,"c":9,"v":0},{"r":14,"c":10,"v":0},{"r":14,"c":11,"v":0},{"r":14,"c":12,"v":0},{"r":14,"c":13,"v":0},{"r":14,"c":14,"v":0},{"r":14,"c":15,"v":0},{"r":14,"c":16,"v":0},{"r":14,"c":17,"v":1},{"r":14,"c":18,"v":0},{"r":14,"c":19,"v":0},
{"r":15,"c":0,"v":0},{"r":15,"c":1,"v":1},{"r":15,"c":2,"v":0},{"r":15,"c":3,"v":0},{"r":15,"c":4,"v":0},{"r":15,"c":5,"v":0},{"r":15,"c":6,"v":0},{"r":15,"c":7,"v":0},{"r":15,"c":8,"v":0},{"r":15,"c":9,"v":0},{"r":15,"c":10,"v":1},{"r":15,"c":11,"v":0},{"r":15,"c":12,"v":0},{"r":15,"c":13,"v":0},{"r":15,"c":14,"v":0},{"r":15,"c":15,"v":0},{"r":15,"c":16,"v":0},{"r":15,"c":17,"v":0},{"r":15,"c":18,"v":1},{"r":15,"c":19,"v":0},
{"r":16,"c":0,"v":0},{"r":16,"c":1,"v":0},{"r":16,"c":2,"v":0},{"r":16,"c":3,"v":0},{"r":16,"c":4,"v":0},{"r":16,"c":5,"v":0},{"r":16,"c":6,"v":0},{"r":16,"c":7,"v":0},{"r":16,"c":8,"v":0},{"r":16,"c":9,"v":0},{"r":16,"c":10,"v":0},{"r":16,"c":11,"v":0},{"r":16,"c":12,"v":0},{"r":16,"c":13,"v":0},{"r":16,"c":14,"v":0},{"r":16,"c":15,"v":1},{"r":16,"c":16,"v":0},{"r":16,"c":17,"v":0},{"r":16,"c":18,"v":0},{"r":16,"c":19,"v":0},
{"r":17,"c":0,"v":0},{"r":17,"c":1,"v":0},{"r":17,"c":2,"v":0},{"r":17,"c":3,"v":0},{"r":17,"c":4,"v":1},{"r":17,"c":5,"v":0},{"r":17,"c":6,"v":0},{"r":17,"c":7,"v":0},{"r":17,"c":8,"v":0},{"r":17,"c":9,"v":0},{"r":17,"c":10,"v":0},{"r":17,"c":11,"v":0},{"r":17,"c":12,"v":0},{"r":17,"c":13,"v":0},{"r":17,"c":14,"v":0},{"r":17,"c":15,"v":1},{"r":17,"c":16,"v":0},{"r":17,"c":17,"v":0},{"r":17,"c":18,"v":0},{"r":17,"c":19,"v":0},
{"r":18,"c":0,"v":0},{"r":18,"c":1,"v":0},{"r":18,"c":2,"v":0},{"r":18,"c":3,"v":0},{"r":18,"c":4,"v":0},{"r":18,"c":5,"v":0},{"r":18,"c":6,"v":0},{"r":18,"c":7,"v":0},{"r":18,"c":8,"v":0},{"r":18,"c":9,"v":0},{"r":18,"c":10,"v":0},{"r":18,"c":11,"v":0},{"r":18,"c":12,"v":0},{"r":18,"c":13,"v":0},{"r":18,"c":14,"v":1},{"r":18,"c":15,"v":1},{"r":18,"c":16,"v":0},{"r":18,"c":17,"v":0},{"r":18,"c":18,"v":0},{"r":18,"c":19,"v":1},
{"r":19,"c":0,"v":0},{"r":19,"c":1,"v":0},{"r":19,"c":2,"v":0},{"r":19,"c":3,"v":0},{"r":19,"c":4,"v":0},{"r":19,"c":5,"v":0},{"r":19,"c":6,"v":0},{"r":19,"c":7,"v":0},{"r":19,"c":8,"v":1},{"r":19,"c":9,"v":0},{"r":19,"c":10,"v":0},{"r":19,"c":11,"v":0},{"r":19,"c":12,"v":0},{"r":19,"c":13,"v":1},{"r":19,"c":14,"v":1},{"r":19,"c":15,"v":0},{"r":19,"c":16,"v":0},{"r":19,"c":17,"v":1},{"r":19,"c":18,"v":1},{"r":19,"c":19,"v":0}
]
},
"spacing":6,
"resolve":{"scale":{"color":"independent"},"legend":{"color":"independent"}},
"vconcat":[
{"hconcat":[
{"width":186,"height":187,"title":{"text":"Relaxed Condition"},"data":{"name":"a"},
"mark":{"type":"rect","width":{"band":1.06},"height":{"band":1.06}},
"encoding":{
"x":{"field":"c","type":"ordinal","axis":null,"scale":{"paddingInner":0,"paddingOuter":0}},
"y":{"field":"r","type":"ordinal","scale":{"paddingInner":0,"paddingOuter":0},"axis":{"title":"(a)","titleAngle":0,"titleAlign":"left","titleBaseline":"middle","titleX":-44,"titleY":176,"titleFontSize":14,"titleFontWeight":"normal","titleFont":"DejaVu Sans","titleColor":"black","domain":false,"ticks":false,"labels":false,"grid":false}},
"color":{"field":"v","type":"quantitative","scale":{"domain":[0,0.01],"range":["#000080","#0000ff","#0080ff","#14ffe2","#7bff7b","#e2ff14","#ff9700","#ff2100","#800000"],"interpolate":"rgb"},"legend":{"type":"gradient","values":[0,0.001,0.002,0.003,0.004,0.005,0.006,0.007,0.008,0.009,0.01],"format":".3f","encode":{"labels":{"update":{"baseline":{"value":"middle"}}}}}}
}},
{"width":186,"height":187,"title":{"text":"Common Condition"},"data":{"name":"b"},
"mark":{"type":"rect","width":{"band":1.06},"height":{"band":1.06}},
"encoding":{
"x":{"field":"c","type":"ordinal","axis":null,"scale":{"paddingInner":0,"paddingOuter":0}},
"y":{"field":"r","type":"ordinal","scale":{"paddingInner":0,"paddingOuter":0},"axis":{"title":"(b)","titleAngle":0,"titleAlign":"left","titleBaseline":"middle","titleX":-25,"titleY":176,"titleFontSize":14,"titleFontWeight":"normal","titleFont":"DejaVu Sans","titleColor":"black","domain":false,"ticks":false,"labels":false,"grid":false}},
"color":{"field":"v","type":"quantitative","scale":{"domain":[0,0.01],"range":["#000080","#0000ff","#0080ff","#14ffe2","#7bff7b","#e2ff14","#ff9700","#ff2100","#800000"],"interpolate":"rgb"},"legend":{"type":"gradient","values":[0,0.001,0.002,0.003,0.004,0.005,0.006,0.007,0.008,0.009,0.01],"format":".3f","encode":{"labels":{"update":{"baseline":{"value":"middle"}}}}}}
}}
],"spacing":104,"bounds":"flush","resolve":{"scale":{"color":"independent"},"legend":{"color":"independent"}}},
{"hconcat":[
{"width":186,"height":187,"title":{"text":"Reward Visualization"},"data":{"name":"c"},
"encoding":{
"x":{"field":"c","type":"ordinal","axis":null,"scale":{"paddingInner":0,"paddingOuter":0}},
"y":{"field":"r","type":"ordinal","scale":{"paddingInner":0,"paddingOuter":0},"axis":{"title":"(c)","titleAngle":0,"titleAlign":"left","titleBaseline":"middle","titleX":-44,"titleY":175,"titleFontSize":14,"titleFontWeight":"normal","titleFont":"DejaVu Sans","titleColor":"black","domain":false,"ticks":false,"labels":false,"grid":false}}
},
"layer":[
{"transform":[{"filter":"isValid(datum.v)"}],"mark":{"type":"rect","width":{"band":1.06},"height":{"band":1.06}},
"encoding":{
"color":{"field":"v","type":"quantitative","scale":{"domain":[-94,43.5],"range":["#000080","#0000ff","#0080ff","#14ffe2","#7bff7b","#e2ff14","#ff9700","#ff2100","#800000"],"interpolate":"rgb"},"legend":{"type":"gradient","values":[-90,-75,-60,-45,-30,-15,0,15,30],"format":"d","encode":{"labels":{"update":{"baseline":{"value":"middle"}}}}}}
}},
{"transform":[{"filter":"!isValid(datum.v)"}],"mark":{"type":"rect","color":"black","height":{"band":0.85}},"encoding":{}}
]},
{"width":186,"height":187,"title":{"text":"Reward Visualization"},"data":{"name":"d"},
"mark":{"type":"rect","width":{"band":1.06},"height":{"band":1.06}},
"encoding":{
"x":{"field":"c","type":"ordinal","axis":null,"scale":{"paddingInner":0,"paddingOuter":0}},
"y":{"field":"r","type":"ordinal","scale":{"paddingInner":0,"paddingOuter":0},"axis":{"title":"(d)","titleAngle":0,"titleAlign":"left","titleBaseline":"middle","titleX":-45,"titleY":175,"titleFontSize":14,"titleFontWeight":"normal","titleFont":"DejaVu Sans","titleColor":"black","domain":false,"ticks":false,"labels":false,"grid":false}},
"color":{"field":"v","type":"quantitative","scale":{"domain":[0,1],"range":["#000080","#800000"]},"legend":null}
}}
],"spacing":125,"bounds":"flush","resolve":{"scale":{"color":"independent"},"legend":{"color":"independent"}}}
]
}
